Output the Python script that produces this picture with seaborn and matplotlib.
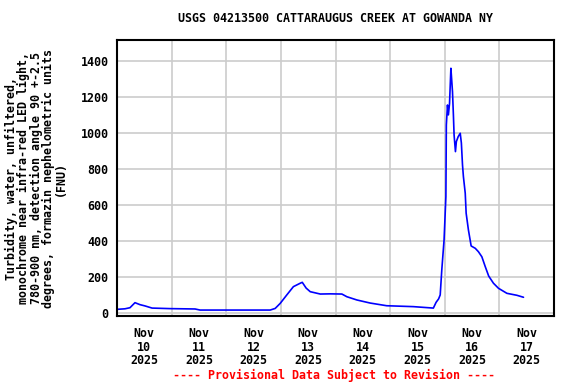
import pandas as pd
import numpy as np
import matplotlib
matplotlib.use("Agg")
import matplotlib.pyplot as plt
import matplotlib.dates as mdates
import seaborn as sns

sns.set_style("whitegrid")
plt.rcParams['font.family'] = ['DejaVu Sans Mono']
plt.rcParams['font.weight'] = 'bold'
plt.rcParams['text.color'] = 'black'
plt.rcParams['xtick.color'] = 'black'
plt.rcParams['ytick.color'] = 'black'

# hours since 2025-11-10 00:00 and turbidity (FNU)
hours = [0, 3.5, 5.7, 7.9, 10.1, 12.3, 15.4, 23.3, 34.3, 36.5, 67.3, 69.5, 71.7,
         74.6, 77.5, 80.5, 81.4, 83.1, 84.9, 89.3, 93.7, 98.8, 101.0, 105.4,
         111.2, 118.5, 130.2, 139.0, 140.2, 141.3, 142.0, 142.7, 143.7, 144.5,
         144.7, 145.2, 145.6, 146.1, 146.7, 146.9, 147.4, 147.8, 148.1, 148.7,
         149.1, 149.9, 150.8, 151.3, 151.8, 152.2, 153.0, 153.4, 154.4, 155.6,
         157.4, 158.8, 160.3, 161.8, 163.3, 165.4, 167.6, 171.3, 175.7, 178.6]
fnu = [22, 25, 31, 59, 48, 41, 29, 26, 24, 18, 18, 27, 55,
       102, 148, 167, 172, 140, 120, 107, 108, 107, 92, 74,
       57, 42, 37, 29, 61, 80, 102, 241, 407, 648,
       1046, 1157, 1102, 1166, 1361, 1324, 1231, 1102, 991, 898,
       954, 981, 1000, 946, 824, 759, 667, 556, 463, 374,
       361, 342, 314, 259, 207, 167, 139, 111, 100, 89]

start = pd.Timestamp("2025-11-10")
df = pd.DataFrame({
    "time": start + pd.to_timedelta(hours, unit="h"),
    "fnu": fnu,
})

title = "USGS 04213500 CATTARAUGUS CREEK AT GOWANDA NY"
ylabel = ("Turbidity, water, unfiltered,\n"
          "monochrome near infra-red LED light,\n"
          "780-900 nm, detection angle 90 +-2.5\n"
          "degrees, formazin nephelometric units\n"
          "(FNU)")
y_ticks = [0, 200, 400, 600, 800, 1000, 1200, 1400]

fig = plt.figure(figsize=(5.76, 3.84), dpi=100)
ax = fig.add_axes([117/576, 1 - 316/384, 437/576, 276/384])

sns.lineplot(data=df, x="time", y="fnu", ax=ax, color="#0000ff", linewidth=1.2)

ax.set_xlim(start, start + pd.Timedelta(days=8))
ax.set_ylim(-15, 1518)
ax.set_yticks(y_ticks)

# labels at noon, grid at midnight
ax.xaxis.set_major_locator(mdates.HourLocator(byhour=[12]))
ax.xaxis.set_major_formatter(mdates.DateFormatter("Nov\n%d\n%Y"))
ax.xaxis.set_minor_locator(mdates.DayLocator())
ax.grid(False, axis="x", which="major")
ax.grid(True, axis="x", which="minor", color="#cccccc", linewidth=1.2)
ax.grid(True, axis="y", color="#cccccc", linewidth=1.2)

ax.tick_params(axis="both", which="both", length=0, labelsize=8.4)
ax.tick_params(axis="x", pad=8)
ax.tick_params(axis="y", pad=6)
for lab in ax.get_xticklabels():
    lab.set_linespacing(1.05)
    lab.set_fontweight("bold")
for lab in ax.get_yticklabels():
    lab.set_fontweight("bold")

for s in ax.spines.values():
    s.set_color("black")
    s.set_linewidth(1.5)

ax.set_xlabel("")
ax.set_ylabel("")
ax.set_title(title, fontsize=8.4, fontweight="bold", pad=13, color="black")

fig.text(36/576, 1 - 178/384, ylabel, rotation=90, ha="center", va="center",
         multialignment="center", fontsize=8.4, fontweight="bold", linespacing=0.92,
         color="black")
fig.text(334/576, 1 - 375/384, "---- Provisional Data Subject to Revision ----",
         ha="center", va="center", color="red", fontsize=8.4, fontweight="bold")

fig.savefig("out.png", dpi=100)
